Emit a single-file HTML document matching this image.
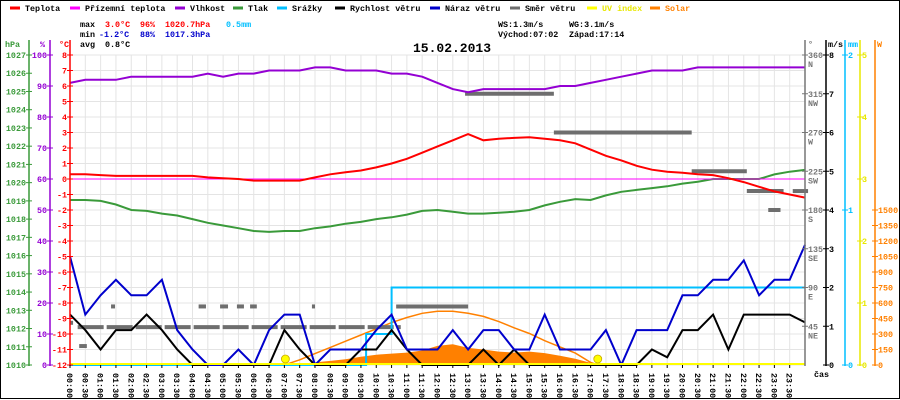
<!DOCTYPE html>
<html><head><meta charset="utf-8"><style>
html,body{margin:0;padding:0;background:#fff;}
svg{display:block;font-family:"Liberation Mono","DejaVu Sans Mono",monospace;}
</style></head><body>
<svg id="chart" width="900" height="400" viewBox="0 0 900 400" xmlns="http://www.w3.org/2000/svg">
<rect x="0.5" y="0.5" width="899" height="398" fill="#fff" stroke="#000"/>
<g id="grid"></g>
<g id="series"></g>
<g id="axes"></g>
<g id="legend" font-size="8.4" font-weight="bold"></g>
<g font-size="8.4" font-weight="bold">
<text x="80" y="27" fill="#000">max</text><text x="105" y="27" fill="#f00">3.0°C</text><text x="140" y="27" fill="#f00">96%</text><text x="165" y="27" fill="#f00">1020.7hPa</text><text x="226" y="27" fill="#00bfff">0.5mm</text>
<text x="80" y="37" fill="#000">min</text><text x="99" y="37" fill="#00c">-1.2°C</text><text x="140" y="37" fill="#00c">88%</text><text x="165" y="37" fill="#00c">1017.3hPa</text>
<text x="80" y="47" fill="#000">avg</text><text x="105" y="47" fill="#000">0.8°C</text>
<text x="498" y="27" fill="#000">WS:1.3m/s</text><text x="569" y="27" fill="#000">WG:3.1m/s</text>
<text x="498" y="37" fill="#000">Východ:07:02</text><text x="569" y="37" fill="#000">Západ:17:14</text>
</g>
<text x="413" y="52" font-size="13" font-weight="bold" fill="#000">15.02.2013</text>
</svg>
<script>
const hours=[];for(let i=0;i<=48;i++)hours.push(i/2);
const tempC=[0.3,0.3,0.25,0.2,0.2,0.2,0.2,0.2,0.2,0.1,0.05,0,-0.1,-0.1,-0.1,-0.1,0.1,0.3,0.43,0.55,0.75,1.0,1.3,1.7,2.1,2.5,2.9,2.5,2.6,2.65,2.7,2.6,2.5,2.3,1.9,1.5,1.2,0.85,0.6,0.47,0.4,0.3,0.25,0.05,-0.2,-0.5,-0.8,-1.0,-1.2];
const humidity=[91,92,92,92,93,93,93,93,93,94,93,94,94,95,95,95,96,96,95,95,95,94,94,93,91,89,88,89,89,89,89,89,90,90,91,92,93,94,95,95,95,96,96,96,96,96,96,96,96];
const pressure=[1019.05,1019.05,1019.0,1018.8,1018.5,1018.45,1018.3,1018.2,1018.0,1017.8,1017.65,1017.5,1017.35,1017.3,1017.35,1017.35,1017.5,1017.6,1017.75,1017.85,1018.0,1018.1,1018.25,1018.45,1018.5,1018.4,1018.3,1018.3,1018.35,1018.4,1018.5,1018.75,1018.95,1019.1,1019.05,1019.3,1019.5,1019.6,1019.7,1019.8,1019.95,1020.05,1020.2,1020.2,1020.2,1020.2,1020.45,1020.6,1020.7];
const windSpeed=[1.3,0.9,0.4,0.9,0.9,1.3,0.9,0.4,0,0,0,0,0,0,0.9,0.4,0,0,0,0.4,0.4,0.9,0.4,0,0,0,0,0.4,0,0.4,0,0,0,0,0,0,0,0,0.4,0.2,0.9,0.9,1.3,0.4,1.3,1.3,1.3,1.3,1.1];
const windGust=[2.8,1.3,1.8,2.2,1.8,1.8,2.2,0.9,0.4,0,0,0.4,0,0.9,1.3,1.3,0,0.4,0.4,0.4,0.9,1.3,0.4,0.4,0.4,0.9,0.4,0.9,0.9,0.4,0.4,1.3,0.4,0.4,0.4,0.9,0,0.9,0.9,0.9,1.8,1.8,2.2,2.2,2.7,1.8,2.2,2.2,3.1];
const groundTemp=[0,0];const groundHours=[0,24];
const rainHours=[0,9.67,9.67,10.5,10.5,24];
const rainMm=[0,0,0.2,0.2,0.5,0.5];
const solarHours=[7,7.5,8,8.5,9,9.5,10,10.5,11,11.5,12,12.5,13,13.5,14,14.5,15,15.5,16,16.5,17,17.5];
const solarW=[0,10,25,40,55,80,100,110,120,140,185,200,165,150,130,120,130,115,90,60,20,0];
const solarMaxHours=[7,7.5,8,8.5,9,9.5,10,10.5,11,11.5,12,12.5,13,13.5,14,14.5,15,15.5,16,16.5,17,17.25];
const solarMaxW=[0,50,110,170,230,290,350,410,460,500,520,520,500,470,420,360,305,235,175,115,25,0];
const dirSegStart=[0.25,10.65,12.9,15.8,20.3,22.1,23.6,22.8,1.34,4.2,4.9,5.45,5.88,7.9,0.3,0.0];
const dirSegEnd=[10.8,13.0,15.8,20.3,22.1,23.3,24.1,23.2,1.47,4.44,5.16,5.68,6.1,8.0,0.55,0.1];
const dirSegDeg=[44,68,315,270,225,202,202,180,68,68,68,68,68,68,22,49];
const sunEvents=[7.033,17.233];
const hpaTicks=[1027,1026,1025,1024,1023,1022,1021,1020,1019,1018,1017,1016,1015,1014,1013,1012,1011,1010];
const pctTicks=[100,90,80,70,60,50,40,30,20,10,0];
const tempTicks=[8,7,6,5,4,3,2,1,0,-1,-2,-3,-4,-5,-6,-7,-8,-9,-10,-11,-12];
const dirTicks=[360,315,270,225,180,135,90,45];
const dirNames=["N","NW","W","SW","S","SE","E","NE"];
const msTicks=[8,7,6,5,4,3,2,1,0];
const mmTicks=[2,1,0];
const uvTicks=[5,4,3,2,1,0];
const wTicks=[1500,1350,1200,1050,900,750,600,450,300,150,0];

const X0=70,X1=805,Y0=55,Y1=365,NS="http://www.w3.org/2000/svg";
const xS=h=>X0+(X1-X0)*h/24;
const yT=t=>Y1-(t+12)*(Y1-Y0)/20;
const yP=p=>Y1-p*(Y1-Y0)/100;
const yH=p=>Y1-(p-1010)*(Y1-Y0)/17;
const yM=v=>Y1-v*(Y1-Y0)/8;
const yD=d=>Y1-d*(Y1-Y0)/360;
const yR=v=>Y1-v*(Y1-Y0)/2;
const yU=v=>Y1-v*(Y1-Y0)/5;
const yW=v=>Y1-v*((Y1-Y0)/2)/1500;
function mk(tag,attrs,parent){const e=document.createElementNS(NS,tag);for(const k in attrs)e.setAttribute(k,attrs[k]);parent.appendChild(e);return e;}
const G=document.getElementById('grid'),S=document.getElementById('series'),A=document.getElementById('axes'),L=document.getElementById('legend');
for(let i=1;i<48;i++){const l=mk('line',{x1:xS(i/2),x2:xS(i/2),y1:Y0,y2:Y1,stroke:'#e4e4e4','stroke-width':1},G);

}
tempTicks.forEach(t=>{const l=mk('line',{x1:X0,x2:X1,y1:yT(t),y2:yT(t),stroke:t===0?'#777':'#e4e4e4','stroke-width':1},G);

});
function pts(xs,ys,fy){return xs.map((h,i)=>xS(h).toFixed(1)+','+fy(ys[i]).toFixed(1)).join(' ');}
let sp=pts(solarHours,solarW,yW)+' '+xS(solarHours[solarHours.length-1])+','+Y1+' '+xS(solarHours[0])+','+Y1;
let e=mk('polygon',{points:sp,fill:'#ff8000'},S);


e=mk('polyline',{points:pts(solarMaxHours,solarMaxW,yW),fill:'none',stroke:'#ff8000','stroke-width':1.5},S);


dirSegDeg.forEach((d,i)=>{const l=mk('line',{x1:xS(dirSegStart[i]),x2:xS(dirSegEnd[i]),y1:yD(d),y2:yD(d),stroke:'#6e6e6e','stroke-width':4},S);
if(i===0)l.setAttribute('stroke-dasharray','26,3');

});
e=mk('polyline',{points:pts(rainHours,rainMm,yR),fill:'none',stroke:'#00bfff','stroke-width':2},S);


e=mk('polyline',{points:pts(hours,windSpeed,yM),fill:'none',stroke:'#000','stroke-width':2},S);


e=mk('polyline',{points:pts(hours,windGust,yM),fill:'none',stroke:'#00c','stroke-width':2},S);


e=mk('polyline',{points:pts(hours,pressure,yH),fill:'none',stroke:'#3a9a3a','stroke-width':2},S);


e=mk('polyline',{points:pts(groundHours,groundTemp,yT),fill:'none',stroke:'#f0f','stroke-width':1},S);


e=mk('polyline',{points:pts(hours,humidity,yP),fill:'none',stroke:'#9400d3','stroke-width':2},S);


e=mk('polyline',{points:pts(hours,tempC,yT),fill:'none',stroke:'#f00','stroke-width':2},S);


e=mk('line',{x1:X0,x2:X1,y1:Y1-1,y2:Y1-1,stroke:'#ff0','stroke-width':2},S);


sunEvents.forEach(h=>{const c=mk('circle',{cx:xS(h),cy:Y1-6,r:4,fill:'#ff0',stroke:'#c9a800','stroke-width':0.8},S);

});
function axis(x,color,ticks,fy,name,anchor,lx,extra){const g=mk('g',{},A);


mk('line',{x1:x,x2:x,y1:Y0-15,y2:Y1+1,stroke:color,'stroke-width':1.5},g);
ticks.forEach((t,i)=>{const y=fy(t);mk('line',{x1:x-3,x2:x+3,y1:y,y2:y,stroke:color},g);
const tx=mk('text',{x:lx,y:y+3,fill:color,'font-size':8.4,'font-weight':'bold','text-anchor':anchor},g);tx.textContent=t;
if(extra){const t2=mk('text',{x:lx,y:y+12,fill:color,'font-size':8.4,'font-weight':'bold'},g);t2.textContent=extra[i];}});}
axis(29,'#3a9a3a',hpaTicks,yH,'pressure-axis','end',26);
axis(50,'#9400d3',pctTicks,yP,'humidity-axis','end',47);
axis(70,'#f00',tempTicks,yT,'temperature-axis','end',67);
axis(805,'#777',dirTicks,yD,'direction-axis','start',808,dirNames);
axis(826,'#000',msTicks,yM,'wind-speed-axis','start',829);
axis(845,'#00bfff',mmTicks,yR,'rain-axis','start',848);
axis(860,'#e8e800',uvTicks,yU,'uv-axis','start',862);
axis(875,'#ff8000',wTicks,yW,'solar-axis','start',878);
[['hPa',5,'#3a9a3a'],['%',40,'#9400d3'],['°C',59,'#f00'],['°',808,'#777'],['m/s',828,'#000'],['mm',848,'#00bfff'],['W',877,'#ff8000']].forEach(u=>{const t=mk('text',{x:u[1],y:47,fill:u[2],'font-size':8.4,'font-weight':'bold'},A);t.textContent=u[0];

});
for(let i=0;i<48;i++){const x=xS(i/2);mk('line',{x1:x,x2:x,y1:Y1,y2:Y1+3,stroke:'#000'},A);
const lab=(String(Math.floor(i/2)).padStart(2,'0'))+':'+(i%2?'30':'00');
const t=mk('text',{x:0,y:0,transform:`translate(${x-3},373) rotate(90)`,'font-size':8.4,'font-weight':'bold',fill:'#000'},A);t.textContent=lab;

}
let ct=mk('text',{x:814,y:377,'font-size':8.4,'font-weight':'bold',fill:'#000'},A);ct.textContent='čas';


const legNames=['Teplota','Přízemní teplota','Vlhkost','Tlak','Srážky','Rychlost větru','Náraz větru','Směr větru','UV index','Solar'];
const legColors=['#f00','#f0f','#9400d3','#3a9a3a','#00bfff','#000','#00c','#6e6e6e','#ff0','#ff8000'];
const legX=[10,70,175,233,277,335,430,510,587,650];
legNames.forEach((n,i)=>{const g=mk('g',{},L);


mk('line',{x1:legX[i],x2:legX[i]+10,y1:8,y2:8,stroke:legColors[i],'stroke-width':3},g);
const t=mk('text',{x:legX[i]+15,y:11,fill:(i===8?'#e8e800':(i===9?'#ff8000':'#000'))},g);t.textContent=n;});
</script>
</body></html>
